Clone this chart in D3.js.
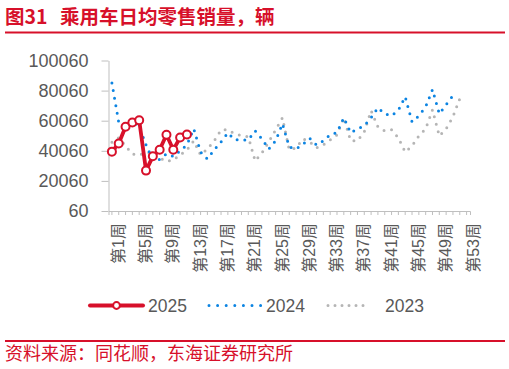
<!DOCTYPE html>
<html>
<head>
<meta charset="utf-8">
<script src="https://cdn.jsdelivr.net/npm/d3@7"></script>
<style>
  body { margin: 0; background: #fff; }
  text { font-family: "Liberation Sans", "Noto Sans CJK SC", sans-serif; }
</style>
</head>
<body>
<div id="content"></div>
<script>
// weekly values
const weeks = d3.range(1, 54);
const labelWeeks = [1, 5, 9, 13, 17, 21, 25, 29, 33, 37, 41, 45, 49, 53];
const yTicks = [60, 20060, 40060, 60060, 80060, 100060];

const v2025 = [39500, 44900, 56000, 58900, 60400, 26900, 36400, 40700, 50700, 40700, 48900, 50900];

const v2024 = [85100, 59000, 57300, 60700, 56000, 44000, 34000, 34300, 38000, 36300,
               40000, 44000, 54700, 39300, 34700, 40700, 46000, 52000, 47500, 47300,
               47300, 53300, 48000, 41300, 46700, 58000, 42700, 41300, 44300, 48300,
               44000, 46700, 50700, 52300, 62000, 52000, 54700, 56700, 62000, 68700,
               64700, 63300, 67000, 76000, 59300, 63300, 69300, 80700, 64700, 70700,
               76700];

const v2023 = [45700, 48700, 43300, 38000, 37300, 38700, 38700, 35300, 33000, 34000,
               37300, 40700, 46700, 37300, 41300, 46700, 54000, 54000, 51300, 50200,
               49300, 33300, 38700, 46000, 54000, 62000, 40700, 42000, 48000, 46000,
               42000, 44000, 47300, 50700, 62000, 46700, 46700, 52700, 66700, 56000,
               53300, 54000, 48700, 39300, 43300, 50000, 54700, 67300, 50000, 54700,
               62700, 74700];

const RED = "#d7102a", BLUE = "#0c84e2", GRAY = "#b5b5b5", TXT = "#595959", AX = "#bfbfbf";

const W = 509, H = 369;
const svg = d3.select("#content").append("svg")
    .attr("width", W).attr("height", H);

// title
svg.append("text").attr("x", 5).attr("y", 24)
    .attr("fill", RED).attr("font-size", 19.5).attr("font-weight", "bold")
    .style("font-family", "'Noto Sans CJK SC'")
    .text("图31");
svg.append("text").attr("x", 60).attr("y", 24)
    .attr("fill", RED).attr("font-size", 19.5).attr("font-weight", "bold")
    .style("font-family", "'Noto Sans CJK SC'")
    .text("乘用车日均零售销量，辆");
svg.append("line").attr("x1", 5).attr("x2", 505).attr("y1", 32.5).attr("y2", 32.5)
    .attr("stroke", RED).attr("stroke-width", 2);

// scales
const x = d3.scaleBand().domain(weeks).range([108.5, 470]).padding(0);
const cx = w => x(w) + x.bandwidth() / 2;
const y = d3.scaleLinear().domain([60, 100060]).range([211, 60.5]);

// y axis
const yAxis = svg.append("g")
    .attr("transform", "translate(108.5,0)")
    .call(d3.axisLeft(y).tickValues(yTicks).tickFormat(d3.format("d"))
        .tickSize(7).tickPadding(13).tickSizeOuter(0));
yAxis.select(".domain").attr("stroke", AX);
yAxis.selectAll(".tick line").attr("stroke", AX);
yAxis.selectAll(".tick text").attr("fill", TXT).attr("font-size", 18)
    .style("font-family", "'Liberation Sans'");

// x axis
const xAxis = svg.append("g")
    .attr("transform", "translate(0,211)")
    .call(d3.axisBottom(x).tickSize(4).tickSizeOuter(4).tickFormat(""));
xAxis.select(".domain").attr("stroke", AX);
xAxis.selectAll(".tick line").attr("stroke", AX);

svg.append("g").selectAll("text").data(labelWeeks).enter()
    .append("text")
    .attr("transform", d => "translate(" + (cx(d) + 6.5) + ",223) rotate(-90)")
    .attr("text-anchor", "end")
    .attr("dominant-baseline", "central")
    .attr("fill", TXT)
    .attr("font-size", 16)
    .text(d => "第" + d + "周");

// series
const line = d3.line()
    .x((d, i) => cx(weeks[i]))
    .y(d => y(d));

svg.append("path").attr("d", line(v2023))
    .attr("fill", "none").attr("stroke", GRAY).attr("stroke-width", 3)
    .attr("stroke-linecap", "round").attr("stroke-dasharray", "0 7.7");

svg.append("path").attr("d", line(v2024))
    .attr("fill", "none").attr("stroke", BLUE).attr("stroke-width", 3)
    .attr("stroke-linecap", "round").attr("stroke-dasharray", "0 7.7");

svg.append("path").attr("d", line(v2025))
    .attr("fill", "none").attr("stroke", RED).attr("stroke-width", 3.8)
    .attr("stroke-linejoin", "round");

svg.append("g").selectAll("circle").data(v2025).enter()
    .append("circle")
    .attr("cx", (d, i) => cx(weeks[i]))
    .attr("cy", d => y(d))
    .attr("r", 4)
    .attr("fill", "#fff").attr("stroke", RED).attr("stroke-width", 2);

// legend
const ly = 305.5;
svg.append("line").attr("x1", 90).attr("x2", 143).attr("y1", ly).attr("y2", ly)
    .attr("stroke", RED).attr("stroke-width", 4).attr("stroke-linecap", "round");
svg.append("circle").attr("cx", 116.5).attr("cy", ly).attr("r", 3.4)
    .attr("fill", "#fff").attr("stroke", RED).attr("stroke-width", 2);
svg.append("line").attr("x1", 209).attr("x2", 261).attr("y1", ly).attr("y2", ly)
    .attr("stroke", BLUE).attr("stroke-width", 3)
    .attr("stroke-linecap", "round").attr("stroke-dasharray", "0 8.6");
svg.append("line").attr("x1", 328).attr("x2", 370).attr("y1", ly).attr("y2", ly)
    .attr("stroke", GRAY).attr("stroke-width", 3)
    .attr("stroke-linecap", "round").attr("stroke-dasharray", "0 7");

const legendText = [["2025", 148], ["2024", 266], ["2023", 385]];
svg.append("g").selectAll("text").data(legendText).enter()
    .append("text")
    .attr("x", d => d[1]).attr("y", ly)
    .attr("dominant-baseline", "central")
    .attr("fill", TXT).attr("font-size", 17.5)
    .style("font-family", "'Liberation Sans'")
    .text(d => d[0]);

// source
svg.append("line").attr("x1", 5).attr("x2", 505).attr("y1", 341).attr("y2", 341)
    .attr("stroke", RED).attr("stroke-width", 2);
svg.append("text").attr("x", 5).attr("y", 360)
    .attr("fill", RED).attr("font-size", 18)
    .style("font-family", "'Noto Sans CJK SC'")
    .text("资料来源：同花顺，东海证券研究所");
</script>
</body>
</html>
